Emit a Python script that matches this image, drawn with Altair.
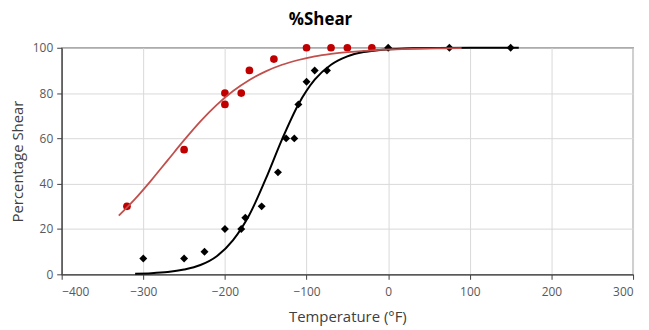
import altair as alt
import pandas as pd

# Measured points (°F, % shear)
black_x = [-300, -250, -225, -200, -180, -175, -155, -135, -125, -115, -110, -100, -90, -75, 0, 75, 150]
black_y = [7, 7, 10, 20, 20, 25, 30, 45, 60, 60, 75, 85, 90, 90, 100, 100, 100]

red_x = [-320, -250, -200, -200, -180, -170, -140, -100, -70, -50, -20]
red_y = [30, 55, 80, 75, 80, 90, 95, 100, 100, 100, 100]

# Fitted curves
black_fit_x = [-310, -290, -270, -250, -230, -210, -190, -170, -150, -130, -110, -90, -70, -50, -30, -10, 10, 30, 60, 100, 160]
black_fit_y = [0.3, 0.5, 1.0, 2.1, 4.1, 8.0, 15.1, 26.3, 42.1, 59.6, 75.0, 85.9, 92.5, 96.2, 98.1, 99.0, 99.5, 99.8, 99.9, 100, 100]

red_fit_x = [-330, -310, -290, -270, -250, -230, -210, -190, -170, -150, -130, -110, -90, -70, -50, -30, -10, 10, 30, 60, 90]
red_fit_y = [25.9, 33.3, 41.6, 50.4, 59.2, 67.5, 74.8, 80.9, 85.8, 89.6, 92.5, 94.6, 96.2, 97.3, 98.1, 98.6, 99.1, 99.3, 99.5, 99.7, 99.8]

x_ticks = [-400, -300, -200, -100, 0, 100, 200, 300]
y_ticks = [0, 20, 40, 60, 80, 100]

black_pts = pd.DataFrame({"t": black_x, "s": black_y})
red_pts = pd.DataFrame({"t": red_x, "s": red_y})
black_fit = pd.DataFrame({"t": black_fit_x, "s": black_fit_y})
red_fit = pd.DataFrame({"t": red_fit_x, "s": red_fit_y})

xscale = alt.Scale(domain=[-400, 300], nice=False)
yscale = alt.Scale(domain=[0, 100], nice=False)

X = alt.X("t:Q", scale=xscale, title="Temperature (°F)",
          axis=alt.Axis(values=x_ticks, format="d", labelPadding=7, titlePadding=12))
Y = alt.Y("s:Q", scale=yscale, title="Percentage Shear",
          axis=alt.Axis(values=y_ticks, labelPadding=4, titlePadding=7))

base_axes = alt.Chart(black_pts).mark_point(opacity=0).encode(x=X, y=Y)

bline = alt.Chart(black_fit).mark_line(color="#000000", strokeWidth=2, interpolate="monotone").encode(x="t:Q", y="s:Q")
rline = alt.Chart(red_fit).mark_line(color="#C0504D", strokeWidth=1.8, interpolate="monotone").encode(x="t:Q", y="s:Q")
bpts = alt.Chart(black_pts).mark_point(shape="diamond", filled=True, color="#000000", size=64, opacity=1).encode(x="t:Q", y="s:Q")
rpts = alt.Chart(red_pts).mark_point(shape="circle", filled=True, color="#C00000", size=60, opacity=1).encode(x="t:Q", y="s:Q")

chart = alt.layer(base_axes, bline, bpts, rpts, rline).properties(
    width=575,
    height=228,
    autosize=alt.AutoSizeParams(type="none"),
    padding={"left": 54, "top": 39, "right": 8, "bottom": 52},
    title=alt.TitleParams("%Shear", font="Open Sans", fontSize=17, fontWeight="bold",
                          color="#000000", anchor="middle", offset=13, dx=-27),
).configure_view(
    stroke="#404040", strokeWidth=1.2
).configure_axis(
    grid=True, gridColor="#D9D9D9", gridWidth=1,
    domainColor="#404040", domainWidth=1.2,
    tickColor="#404040", tickSize=5,
    labelFont="Open Sans", labelFontSize=12, labelColor="#595959",
    titleFont="Open Sans", titleFontSize=15, titleColor="#404040", titleFontWeight="normal",
)

chart.save("out.html", embed_options={"renderer": "svg", "actions": False})
